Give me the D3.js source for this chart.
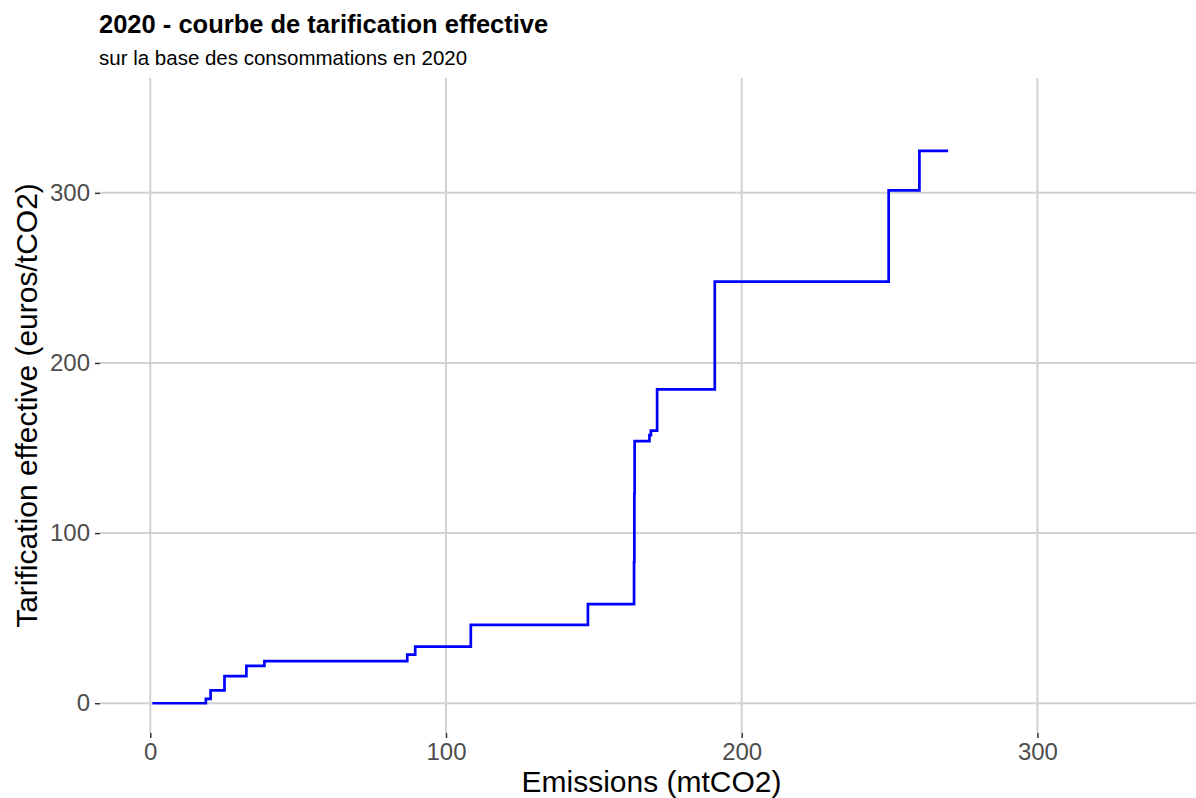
<!DOCTYPE html>
<html>
<head>
<meta charset="utf-8">
<script src="https://cdn.jsdelivr.net/npm/d3@7"></script>
<style>
  html, body { margin: 0; padding: 0; background: #ffffff; }
  svg { display: block; font-family: "Liberation Sans", Arial, sans-serif; }
</style>
</head>
<body>
<svg id="chart" width="1196" height="798"></svg>
<script>
// ---- data ----
const emissions = [0.7, 18.8, 20.4, 25.1, 32.5, 38.6, 86.9, 89.6, 108.4, 148.0, 163.6, 163.7, 163.8, 168.8, 169.3, 171.4, 190.9, 249.7, 260.1, 269.8];
const prices    = [0,   2.5,  7.6,  15.9, 22.0, 24.7, 28.6, 33.3, 46.1,  58.2,  83,    123,   154.1, 157.6, 160.2, 184.5, 247.8, 301.4, 324.7, 324.7];
const xTicks = [0, 100, 200, 300];
const yTicks = [0, 100, 200, 300];
const titleText = "2020 - courbe de tarification effective";
const subtitleText = "sur la base des consommations en 2020";
const xLabel = "Emissions (mtCO2)";
const yLabel = "Tarification effective (euros/tCO2)";

const points = emissions.map((e, i) => ({ x: e, y: prices[i] }));

const svg = d3.select("#chart");
const W = 1196, H = 798;
const panel = { left: 100, right: 1203, top: 78, bottom: 733 };

const x = d3.scaleLinear().domain([-17, 356]).range([panel.left, panel.right]);
const y = d3.scaleLinear().domain([-17.5, 367.5]).range([panel.bottom, panel.top]);

const clipW = W - panel.left;
svg.append("defs").append("clipPath").attr("id", "clip")
  .append("rect").attr("x", panel.left).attr("y", panel.top)
  .attr("width", clipW).attr("height", panel.bottom - panel.top);

const grid = svg.append("g").attr("clip-path", "url(#clip)");
// gridlines
grid.selectAll("line.gx").data(xTicks).enter().append("line")
  .attr("x1", d => x(d)).attr("x2", d => x(d))
  .attr("y1", panel.top).attr("y2", panel.bottom)
  .attr("stroke", "#d2d2d2").attr("stroke-width", 2);
grid.selectAll("line.gy").data(yTicks).enter().append("line")
  .attr("y1", d => y(d)).attr("y2", d => y(d))
  .attr("x1", panel.left).attr("x2", panel.right)
  .attr("stroke", "#d2d2d2").attr("stroke-width", 2);

// axes (ticks + labels only)
const xAxis = d3.axisBottom(x).tickValues(xTicks).tickSize(5).tickPadding(5).tickFormat(d3.format("d"));
const gx = svg.append("g").attr("transform", `translate(0,${panel.bottom})`).call(xAxis);
gx.select(".domain").remove();
gx.selectAll(".tick line").attr("stroke", "#333333").attr("stroke-width", 1.5);
gx.selectAll(".tick text").attr("fill", "#4d4d4d").style("font-size", "24px")
  .style("font-family", "'Liberation Sans', Arial, sans-serif");

const yAxis = d3.axisLeft(y).tickValues(yTicks).tickSize(5).tickPadding(5).tickFormat(d3.format("d"));
const gy = svg.append("g").attr("transform", `translate(${panel.left},0)`).call(yAxis);
gy.select(".domain").remove();
gy.selectAll(".tick line").attr("stroke", "#333333").attr("stroke-width", 1.5);
gy.selectAll(".tick text").attr("fill", "#4d4d4d").style("font-size", "24px")
  .style("font-family", "'Liberation Sans', Arial, sans-serif");

// step line
const line = d3.line().x(d => x(d.x)).y(d => y(d.y)).curve(d3.curveStepAfter);
svg.append("g").attr("clip-path", "url(#clip)")
  .append("path").datum(points)
  .attr("d", line)
  .attr("fill", "none")
  .attr("stroke", "#0000ff")
  .attr("stroke-width", 2.7)
  .attr("stroke-linejoin", "miter");

// titles
svg.append("text").attr("x", panel.left - 1).attr("y", 33)
  .attr("fill", "#000").style("font-size", "25.5px").style("font-weight", "bold")
  .text(titleText);
svg.append("text").attr("x", panel.left - 1).attr("y", 65)
  .attr("fill", "#000").style("font-size", "20.5px")
  .text(subtitleText);

svg.append("text")
  .attr("x", (panel.left + panel.right) / 2).attr("y", 792)
  .attr("text-anchor", "middle").attr("fill", "#000").style("font-size", "30px")
  .text(xLabel);

svg.append("text")
  .attr("transform", `translate(37,${(panel.top + panel.bottom) / 2}) rotate(-90)`)
  .attr("text-anchor", "middle").attr("fill", "#000").style("font-size", "30px")
  .text(yLabel);
</script>
</body>
</html>
